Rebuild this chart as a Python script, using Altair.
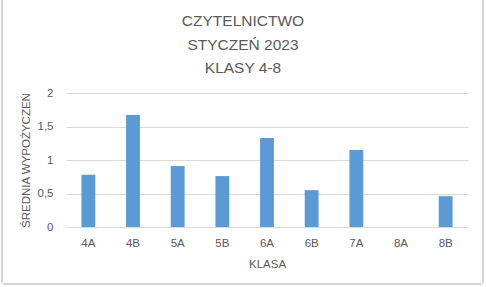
import altair as alt
import pandas as pd

klasy = ["4A", "4B", "5A", "5B", "6A", "6B", "7A", "8A", "8B"]
srednia = [0.78, 1.67, 0.91, 0.76, 1.33, 0.55, 1.15, 0.0, 0.46]
y_ticks = [0, 0.5, 1, 1.5, 2]
title_lines = ["CZYTELNICTWO", "STYCZEŃ 2023", "KLASY 4-8"]

df = pd.DataFrame({"klasa": klasy, "srednia": srednia})

FONT = "Liberation Sans"
GRAY = "#595959"

bars = alt.Chart(df).mark_bar(color="#5b9bd5").encode(
    x=alt.X("klasa:N", sort=klasy, title="KLASA",
            scale=alt.Scale(paddingInner=0.69, paddingOuter=0.345),
            axis=alt.Axis(labelAngle=0, labelPadding=10, ticks=False, domain=True,
                          domainColor="#d9d9d9", titlePadding=10)),
    y=alt.Y("srednia:Q", title="ŚREDNIA WYPOŻYCZEŃ",
            scale=alt.Scale(domain=[0, 2], nice=False),
            axis=alt.Axis(values=y_ticks,
                          labelExpr="replace(toString(datum.value), '.', ',')",
                          ticks=False, domain=False, labelPadding=13,
                          gridColor="#d9d9d9", titlePadding=6)),
)

border = alt.Chart(df).mark_rect(
    fill=None, stroke="#d4d4d4", strokeWidth=1, cornerRadius=3
).encode(
    x=alt.value(-64), x2=alt.value(417), y=alt.value(-95), y2=alt.value(191)
)

chart = alt.layer(border, bars).properties(
    width=402,
    height=134,
    title=alt.TitleParams(title_lines, anchor="middle", dx=-24, dy=93, offset=14,
                          fontSize=15.5, font=FONT, color=GRAY, fontWeight="normal",
                          lineHeight=23.5),
    padding={"left": 66, "top": 93, "right": 18, "bottom": 60},
    autosize=alt.AutoSizeParams(type="none"),
).configure_view(stroke=None).configure_axis(
    labelFont=FONT, titleFont=FONT, labelFontSize=11.5, titleFontSize=11.5,
    labelColor=GRAY, titleColor=GRAY, titleFontWeight="normal"
)

chart.save("out.html", embed_options={"renderer": "svg", "actions": False})
